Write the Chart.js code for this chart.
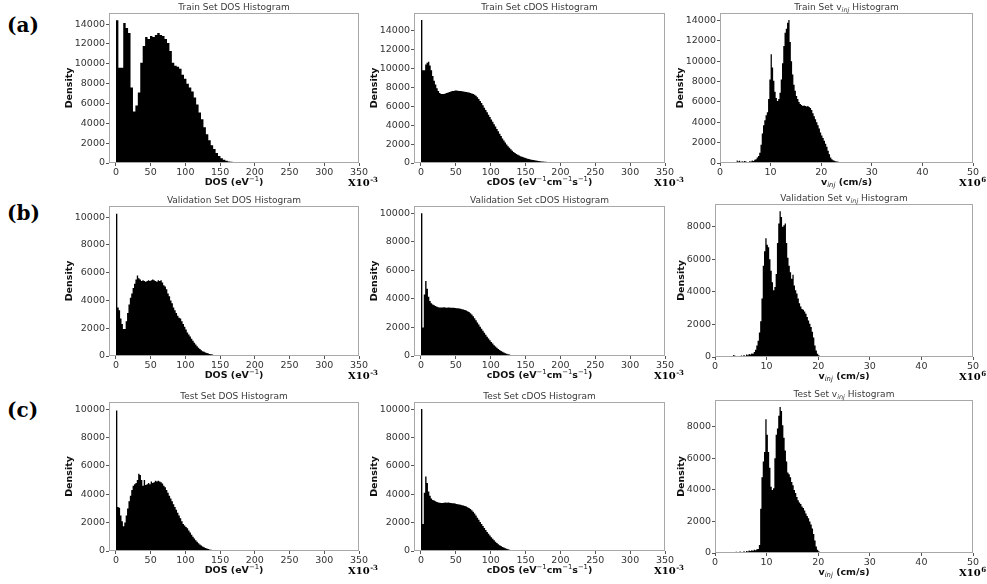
<!DOCTYPE html>
<html>
<head>
<meta charset="utf-8">
<script src="https://cdn.jsdelivr.net/npm/chart.js@4.4.1/dist/chart.umd.min.js"></script>
<style>
  body { margin:0; background:#fff; width:987px; height:584px; overflow:hidden; position:relative; }
  canvas { position:absolute; }
  .tag { position:absolute; left:7px; font:bold 20px "DejaVu Serif", serif; color:#000; line-height:24px; }
</style>
</head>
<body>
<div class="tag" style="top:13px">(a)</div>
<div class="tag" style="top:201px">(b)</div>
<div class="tag" style="top:398px">(c)</div>
<script>
// histogram counts (bin start, bin width, counts)
const trainDosStart = 0, trainDosWidth = 3.5;
const trainDos = [
  14400, 9600, 9600, 14100, 13600, 13100, 7600, 5200, 5800, 7100,
  10100, 11800, 12700, 12500, 12800, 12700, 12900, 13100, 12900, 12800,
  12500, 12100, 11300, 10100, 9800, 9700, 9500, 8900, 8500, 8000,
  7600, 7200, 6600, 5900, 5100, 4400, 3600, 2900, 2300, 1800,
  1400, 1000, 700, 470, 320, 220, 160, 120, 90, 70,
  55, 45, 35, 28, 22, 16, 12, 8, 5, 3
];

const trainCdosStart = 0, trainCdosWidth = 2;
const trainCdos = [
  15100, 9800, 9800, 10400, 10600, 10700, 10300, 9800, 9200, 8700,
  8300, 7900, 7600, 7400, 7300, 7300, 7300, 7350, 7400, 7450,
  7500, 7550, 7600, 7620, 7650, 7650, 7640, 7620, 7600, 7580,
  7560, 7540, 7500, 7480, 7450, 7400, 7350, 7300, 7200, 7100,
  6950, 6750, 6550, 6350, 6100, 5850, 5600, 5350, 5100, 4850,
  4600, 4350, 4100, 3850, 3600, 3350, 3100, 2850, 2600, 2380,
  2160, 1960, 1770, 1600, 1440, 1300, 1170, 1060, 960, 870,
  790, 720, 660, 600, 550, 500, 460, 420, 380, 345,
  315, 285, 260, 235, 210, 190, 170, 150, 135, 120,
  105, 95, 85, 75, 65, 58, 50, 44, 38, 33,
  28, 24, 20, 17, 14, 12, 10, 8, 7, 6,
  5, 4, 3, 3, 2, 2, 1, 1, 1, 1
];

const trainVinjStart = 3.25, trainVinjWidth = 0.25;
const trainVinj = [
  250, 150, 220, 100, 180, 120, 200, 140, 60, 100,
  180, 150, 250, 200, 320, 380, 550, 700, 1000, 1800,
  2900, 3700, 4200, 4700, 5000, 6300, 8200, 10700, 9400, 8100,
  7000, 6400, 6100, 6300, 6900, 8200, 9800, 11500, 12800, 13200,
  13800, 14050, 11900, 10000, 8700, 7700, 7100, 6600, 6300, 6000,
  5800, 5700, 5600, 5650, 5600, 5550, 5600, 5500, 5400, 5200,
  4900, 4600, 4300, 4000, 3700, 3400, 3000, 2700, 2450, 2200,
  1900, 1600, 1200, 850, 550, 380, 280, 220, 170, 140,
  120, 100, 85, 70, 60, 50, 45, 40, 35, 30,
  26, 22, 18, 15, 12, 10, 8, 6, 5, 4
];

const valDosStart = 0, valDosWidth = 2;
const valDos = [
  10250, 3500, 3300, 2700, 2300, 1950, 1950, 2500, 3100, 3700,
  4200, 4500, 4900, 5200, 5500, 5800, 5600, 5500, 5400, 5450,
  5400, 5350, 5400, 5450, 5400, 5450, 5500, 5450, 5400, 5350,
  5450, 5400, 5450, 5300, 5100, 5000, 4800, 4500, 4300, 4000,
  3800, 3500, 3300, 3100, 2900, 2750, 2700, 2500, 2300, 2100,
  1900, 1700, 1550, 1400, 1250, 1100, 950, 820, 700, 600,
  500, 420, 350, 300, 260, 220, 180, 150, 120, 100,
  80, 65, 55, 45, 35, 28, 22, 17, 13, 10,
  7, 5, 4, 3, 2
];

const valCdosStart = 0, valCdosWidth = 2;
const valCdos = [
  10000, 2000, 4300, 5250, 4700, 4150, 3850, 3700, 3600, 3550,
  3500, 3450, 3420, 3400, 3400, 3400, 3420, 3400, 3380, 3400,
  3400, 3380, 3380, 3370, 3360, 3350, 3340, 3320, 3300, 3280,
  3250, 3220, 3180, 3130, 3080, 3000, 2900, 2780, 2650, 2500,
  2350, 2200, 2050, 1900, 1760, 1620, 1480, 1350, 1220, 1100,
  980, 870, 760, 660, 570, 490, 420, 355, 295, 245,
  200, 160, 128, 100, 78, 60, 45, 34, 25, 18,
  13, 9, 6, 4, 2
];

const valVinjStart = 3.5, valVinjWidth = 0.25;
const valVinj = [
  120, 80, 0, 60, 0, 50, 90, 40, 120, 60,
  150, 100, 180, 150, 220, 200, 300, 450, 700, 1000,
  1500, 2200, 3600, 5600, 6500, 7300, 6900, 6750, 6000, 5300,
  4600, 4100, 4300, 5100, 7000, 8200, 8950, 8600, 8000, 8100,
  8200, 7000, 6100, 5600, 5200, 4800, 5050, 4400, 4100, 3900,
  3600, 3300, 3100, 2950, 2900, 2800, 2650, 2450, 2250, 2050,
  1850, 1550, 1200, 700, 400, 200, 100, 50, 30, 18,
  8
];

const testDosStart = 0, testDosWidth = 2;
const testDos = [
  9900, 3100, 3050, 2500, 2100, 1750, 2000, 2500, 3000, 3500,
  3900, 4300, 4600, 4700, 4800, 5000, 5450, 5350, 5000, 4600,
  5000, 4650, 4700, 4800, 4700, 4900, 4800, 4850, 4950, 4900,
  4950, 4900, 4850, 4750, 4600, 4500, 4300, 4100, 3900, 3700,
  3500, 3300, 3100, 2900, 2700, 2500, 2300, 2100, 1900, 1800,
  1700, 1600, 1450, 1300, 1150, 1000, 880, 760, 650, 550,
  460, 390, 320, 260, 210, 170, 140, 110, 90, 70,
  55, 45, 35, 28, 22, 17, 13, 10, 8, 6,
  4, 3, 2
];

const testCdosStart = 0, testCdosWidth = 2;
const testCdos = [
  10000, 1900, 4100, 5250, 4800, 4200, 3900, 3700, 3600, 3550,
  3500, 3450, 3420, 3400, 3380, 3380, 3400, 3420, 3400, 3420,
  3400, 3390, 3370, 3360, 3340, 3320, 3300, 3280, 3260, 3230,
  3200, 3170, 3130, 3090, 3030, 2960, 2870, 2760, 2640, 2500,
  2350, 2200, 2050, 1900, 1760, 1620, 1480, 1340, 1210, 1090,
  970, 860, 750, 650, 560, 480, 410, 345, 290, 240,
  195, 155, 122, 95, 74, 57, 43, 32, 24, 17,
  12, 8, 5, 3, 2
];

const testVinjStart = 3.5, testVinjWidth = 0.25;
const testVinj = [
  60, 0, 80, 0, 50, 90, 0, 60, 110, 70,
  130, 100, 160, 120, 180, 150, 200, 180, 230, 260,
  500, 2800, 4800, 5800, 6400, 8480, 7500, 6400, 5400, 4200,
  4000, 4100, 6000, 7500, 7900, 8700, 9250, 9000, 8100, 7300,
  6500, 5800, 5100, 5000, 4800, 4500, 4300, 4000, 3800, 3550,
  3350, 3200, 3100, 2950, 2850, 2700, 2500, 2350, 2200, 2000,
  1800, 1550, 1200, 800, 420, 200, 110, 60, 40, 25,
  15
];

// tick values
const dosTicks = [0, 50, 100, 150, 200, 250, 300, 350];
const vinjTicks = [0, 10, 20, 30, 40, 50];
const yTicks14 = [0, 2000, 4000, 6000, 8000, 10000, 12000, 14000];
const yTicks10 = [0, 2000, 4000, 6000, 8000, 10000];
const yTicks8 = [0, 2000, 4000, 6000, 8000];

const dosRange = [-10, 350];
const vinjRange = [0, 50];

// label pieces: [text, mode]  mode '' / 'sup' / 'sub'
const dosLabel = [['DOS (eV', ''], ['\u22121', 'sup'], [')', '']];
const cdosLabel = [['cDOS (eV', ''], ['\u22121', 'sup'], ['cm', ''], ['\u22121', 'sup'], ['s', ''], ['\u22121', 'sup'], [')', '']];
const vinjLabel = [['v', ''], ['inj', 'sub'], [' (cm/s)', '']];
const milliScale = ['X10', '-3'];
const megaScale = ['X10', '6'];

const panels = [
  {set:'Train', kind:'DOS', counts:trainDos, start:trainDosStart, width:trainDosWidth, yMax:15120, yTicks:yTicks14, box:[109, 13, 359, 163]},
  {set:'Train', kind:'cDOS', counts:trainCdos, start:trainCdosStart, width:trainCdosWidth, yMax:15850, yTicks:yTicks14, box:[414, 13, 665, 163]},
  {set:'Train', kind:'vinj', counts:trainVinj, start:trainVinjStart, width:trainVinjWidth, yMax:14750, yTicks:yTicks14, box:[720, 13, 973, 163]},
  {set:'Validation', kind:'DOS', counts:valDos, start:valDosStart, width:valDosWidth, yMax:10800, yTicks:yTicks10, box:[109, 206, 359, 356]},
  {set:'Validation', kind:'cDOS', counts:valCdos, start:valCdosStart, width:valCdosWidth, yMax:10500, yTicks:yTicks10, box:[414, 206, 665, 356]},
  {set:'Validation', kind:'vinj', counts:valVinj, start:valVinjStart, width:valVinjWidth, yMax:9400, yTicks:yTicks8, box:[715, 204, 973, 357]},
  {set:'Test', kind:'DOS', counts:testDos, start:testDosStart, width:testDosWidth, yMax:10500, yTicks:yTicks10, box:[109, 402, 359, 551]},
  {set:'Test', kind:'cDOS', counts:testCdos, start:testCdosStart, width:testCdosWidth, yMax:10500, yTicks:yTicks10, box:[414, 402, 665, 551]},
  {set:'Test', kind:'vinj', counts:testVinj, start:testVinjStart, width:testVinjWidth, yMax:9700, yTicks:yTicks8, box:[715, 400, 973, 553]}
];

const SANS = '"DejaVu Sans", sans-serif';
const SERIF = '"DejaVu Serif", serif';
const PAD_L = 60, PAD_T = 14, PAD_R = 30, PAD_B = 36;

function richText(ctx, parts, x, y, size, weight, align) {
  const fontFor = m => {
    if (!m) return weight + ' ' + size + 'px ' + SANS;
    return (m === 'sub' ? 'italic ' : '') + 'normal ' + (size * 0.72) + 'px ' + SANS;
  };
  let total = 0;
  parts.forEach(p => { ctx.font = fontFor(p[1]); total += ctx.measureText(p[0]).width; });
  let cx = align === 'center' ? x - total / 2 : x;
  ctx.textAlign = 'left';
  ctx.textBaseline = 'alphabetic';
  parts.forEach(p => {
    ctx.font = fontFor(p[1]);
    const dy = p[1] === 'sup' ? -size * 0.42 : p[1] === 'sub' ? size * 0.22 : 0;
    ctx.fillText(p[0], cx, y + dy);
    cx += ctx.measureText(p[0]).width;
  });
}

function decor(panel) {
  return {
    id: 'decor',
    afterDraw(chart) {
      const ctx = chart.ctx;
      const a = chart.chartArea;
      const mid = (a.left + a.right) / 2;
      ctx.save();
      // frame
      ctx.strokeStyle = '#a8a8a8';
      ctx.lineWidth = 1;
      ctx.strokeRect(Math.round(a.left) + 0.5, Math.round(a.top) + 0.5,
                     Math.round(a.right - a.left) - 1, Math.round(a.bottom - a.top) - 1);
      // title
      ctx.fillStyle = '#3a3a3a';
      let title;
      if (panel.kind === 'vinj') title = [[panel.set + ' Set v', ''], ['inj', 'sub'], [' Histogram', '']];
      else title = [[panel.set + ' Set ' + panel.kind + ' Histogram', '']];
      richText(ctx, title, mid, a.top - 3, 9, 'normal', 'center');
      // x label
      ctx.fillStyle = '#111';
      const xl = panel.kind === 'DOS' ? dosLabel : panel.kind === 'cDOS' ? cdosLabel : vinjLabel;
      richText(ctx, xl, mid, a.bottom + 22, 9.5, 'bold', 'center');
      // y label
      const ys = chart.scales.y;
      ctx.font = '9.5px ' + SANS;
      let w = 0;
      ys.ticks.forEach(t => { w = Math.max(w, ctx.measureText(String(t.value)).width); });
      ctx.save();
      ctx.translate(a.left - w - 9, (a.top + a.bottom) / 2);
      ctx.rotate(-Math.PI / 2);
      ctx.font = 'bold 9.5px ' + SANS;
      ctx.textAlign = 'center';
      ctx.textBaseline = 'middle';
      ctx.fillText('Density', 0, 0);
      ctx.restore();
      // scale factor note
      const sc = panel.kind === 'vinj' ? megaScale : milliScale;
      ctx.fillStyle = '#000';
      ctx.textAlign = 'left';
      ctx.textBaseline = 'alphabetic';
      ctx.font = 'bold 10px ' + SERIF;
      const sx = a.right - (panel.kind === 'vinj' ? 14 : 11), sy = a.bottom + 23;
      ctx.fillText(sc[0], sx, sy);
      const sw = ctx.measureText(sc[0]).width;
      ctx.font = 'bold 7px ' + SERIF;
      ctx.fillText(sc[1], sx + sw + 0.5, sy - 4);
      ctx.restore();
    }
  };
}

panels.forEach(p => {
  const [l, t, r, b] = p.box;
  const cv = document.createElement('canvas');
  const cw = (r - l) + PAD_L + PAD_R, ch = (b - t) + PAD_T + PAD_B;
  cv.width = cw; cv.height = ch;
  cv.style.left = (l - PAD_L) + 'px';
  cv.style.top = (t - PAD_T) + 'px';
  cv.style.width = cw + 'px';
  cv.style.height = ch + 'px';
  document.body.appendChild(cv);

  // one point per bin left edge, plus the closing right edge of the last bin
  const pts = p.counts.map((v, i) => ({x: p.start + p.width * i, y: v}));
  pts.push({x: p.start + p.width * p.counts.length, y: 0});
  const xr = p.kind === 'vinj' ? vinjRange : dosRange;
  const xt = p.kind === 'vinj' ? vinjTicks : dosTicks;
  const tickFont = {family: SANS, size: 9.5};
  const grid = {display: true, drawOnChartArea: false, drawTicks: true, tickLength: 3, tickWidth: 1, color: '#555', offset: false};

  new Chart(cv, {
    type: 'line',
    data: {
      datasets: [{
        data: pts,
        stepped: 'before',
        fill: 'origin',
        backgroundColor: '#000',
        borderColor: 'rgba(0,0,0,0)',
        borderWidth: 1,
        pointRadius: 0,
        tension: 0
      }]
    },
    options: {
      responsive: false,
      animation: false,
      devicePixelRatio: 1,
      events: [],
      layout: {padding: {left: 0, top: PAD_T, right: PAD_R, bottom: 0}},
      plugins: {legend: {display: false}, title: {display: false}, tooltip: {enabled: false}},
      scales: {
        x: {
          type: 'linear', min: xr[0], max: xr[1], offset: false,
          grid: grid, border: {display: false},
          ticks: {font: tickFont, color: '#333', padding: 1, maxRotation: 0, autoSkip: false, callback: v => String(v)},
          afterBuildTicks: s => { s.ticks = xt.map(v => ({value: v})); },
          afterFit: s => { s.height = PAD_B; }
        },
        y: {
          type: 'linear', min: 0, max: p.yMax,
          grid: grid, border: {display: false},
          ticks: {font: tickFont, color: '#333', padding: 1, autoSkip: false, callback: v => String(v)},
          afterBuildTicks: s => { s.ticks = p.yTicks.map(v => ({value: v})); },
          afterFit: s => { s.width = PAD_L; }
        }
      }
    },
    plugins: [decor(p)]
  });
});
</script>
</body>
</html>
